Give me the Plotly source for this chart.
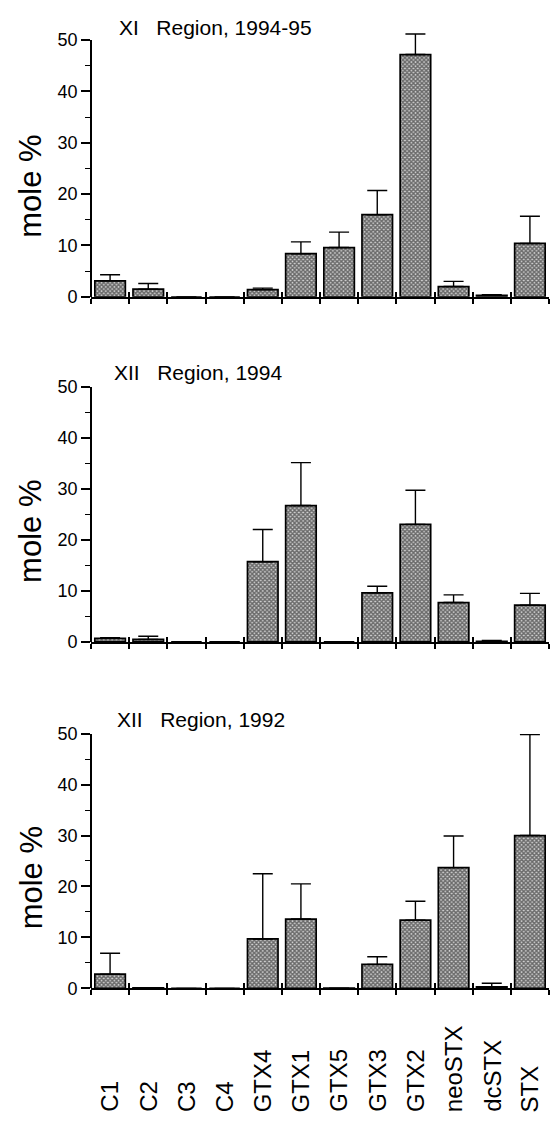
import plotly.graph_objects as go

categories = ["C1", "C2", "C3", "C4", "GTX4", "GTX1", "GTX5", "GTX3", "GTX2", "neoSTX", "dcSTX", "STX"]

panel_titles = ["XI\u00a0\u00a0\u00a0Region, 1994-95", "XII\u00a0\u00a0\u00a0Region, 1994", "XII\u00a0\u00a0\u00a0Region, 1992"]

xi_1994_95 = [3.1, 1.5, 0, 0, 1.4, 8.4, 9.6, 16.0, 47.2, 2.0, 0.3, 10.4]
xi_1994_95_sd = [1.2, 1.1, None, None, 0.3, 2.3, 3.0, 4.7, 4.0, 1.0, 0.1, 5.3]

xii_1994 = [0.7, 0.5, 0, 0, 15.7, 26.7, 0, 9.6, 23.0, 7.7, 0.1, 7.2]
xii_1994_sd = [0.1, 0.6, None, None, 6.3, 8.4, None, 1.3, 6.7, 1.5, 0.2, 2.3]

xii_1992 = [2.8, 0.1, 0, 0, 9.7, 13.6, 0.05, 4.7, 13.4, 23.7, 0.3, 30.0]
xii_1992_sd = [4.1, None, None, None, 12.8, 6.9, None, 1.5, 3.7, 6.2, 0.7, 19.8]

y_ticks = [0, 10, 20, 30, 40, 50]

W, H = 550, 1129
x_left, x_right = 91, 549
panels_px = [(30.7, 292), (383.3, 643.3), (736.7, 996)]  # (px of 50, px of 0)
title_px = [(117, 18), (112, 369), (115, 722)]
font = "Liberation Sans, Arial, Helvetica, sans-serif"
Y_SHOWN = 50
Y_DATA = 54  # headroom so error bars above 50 are not clipped

series = [(xi_1994_95, xi_1994_95_sd), (xii_1994, xii_1994_sd), (xii_1992, xii_1992_sd)]
xpos = list(range(len(categories)))
bounds = [i - 0.5 for i in range(len(categories) + 1)]

fig = go.Figure()
annotations = []

for k, ((vals, sd), (top, zero)) in enumerate(zip(series, panels_px)):
    n = k + 1
    xa = "x" if n == 1 else f"x{n}"
    ya = "y" if n == 1 else f"y{n}"
    yshow = f"y{n + 3}"
    fig.add_trace(go.Bar(
        x=xpos, y=vals, xaxis=xa, yaxis=ya, width=0.8,
        marker=dict(color="#7a7a7a",
                    line=dict(color="black", width=1.7),
                    pattern=dict(shape="x", fgcolor="#000000", bgcolor="#d2d2d2", size=3, solidity=0.7)),
        error_y=dict(type="data", symmetric=False, array=sd,
                     arrayminus=[0] * len(vals), color="black", thickness=1.4, width=10),
        showlegend=False, hoverinfo="skip",
    ))
    # overlay axis providing the inner half of the crossing x ticks
    fig.add_trace(go.Scatter(x=[], y=[], xaxis=f"x{n + 3}", yaxis=ya, showlegend=False))
    # visible y axis (0-50)
    fig.add_trace(go.Scatter(x=[], y=[], xaxis=xa, yaxis=yshow, showlegend=False))

    ppu = (zero - top) / Y_SHOWN
    data_top = zero - ppu * Y_DATA
    dom_x = [x_left / W, x_right / W]
    fig.layout[f"xaxis{'' if n == 1 else n}"] = dict(
        domain=dom_x, anchor=ya, range=[-0.5, 11.5],
        tickmode="array", tickvals=bounds, showticklabels=False,
        ticks="outside", ticklen=5, tickwidth=1.6, tickcolor="black",
        showline=True, linecolor="black", linewidth=1.8,
        showgrid=False, zeroline=False,
    )
    fig.layout[f"xaxis{n + 3}"] = dict(
        overlaying=xa, anchor=ya, range=[-0.5, 11.5],
        tickmode="array", tickvals=bounds, showticklabels=False,
        ticks="inside", ticklen=5, tickwidth=1.6, tickcolor="black",
        showline=False, showgrid=False, zeroline=False,
    )
    fig.layout[f"yaxis{'' if n == 1 else n}"] = dict(
        domain=[(H - zero) / H, min(1.0, (H - data_top) / H)], anchor=xa, range=[0, Y_DATA],
        showline=False, ticks="", showticklabels=False,
        showgrid=False, zeroline=False,
    )
    fig.layout[f"yaxis{n + 3}"] = dict(
        domain=[(H - zero) / H, (H - top) / H], anchor="free", position=x_left / W,
        range=[0, Y_SHOWN],
        tickmode="array", tickvals=y_ticks,
        ticks="outside", ticklen=9, tickwidth=1.6, tickcolor="black",
        minor=dict(dtick=5, ticks="outside", ticklen=5, tickwidth=1.4, tickcolor="black"),
        showline=True, linecolor="black", linewidth=1.8,
        showgrid=False, zeroline=False,
        tickfont=dict(family=font, size=18, color="black"),
    )
    tx, ty = title_px[k]
    annotations.append(dict(
        text=panel_titles[k], xref="paper", yref="paper",
        x=tx / W, y=(H - ty) / H, xanchor="left", yanchor="middle",
        showarrow=False, font=dict(family=font, size=21, color="black"),
    ))
    annotations.append(dict(
        text="mole %", xref="paper", yref="paper", textangle=-90,
        x=31 / W, y=(H - (zero - 112)) / H, xanchor="center", yanchor="middle",
        showarrow=False, font=dict(family=font, size=31, color="black"),
    ))

for i, c in enumerate(categories):
    annotations.append(dict(
        text=c, xref="x3", yref="paper", x=i, y=(H - 1124) / H,
        textangle=-90, xanchor="center", yanchor="bottom",
        showarrow=False, font=dict(family=font, size=24, color="black"),
    ))

fig.update_layout(
    width=W, height=H, margin=dict(l=0, r=0, t=0, b=0),
    paper_bgcolor="white", plot_bgcolor="rgba(0,0,0,0)",
    annotations=annotations, bargap=0.2,
)

fig.write_html(
    "out.html",
    config={"displayModeBar": False},
    post_script="document.body.style.margin='0';document.body.style.overflow='hidden';",
)
